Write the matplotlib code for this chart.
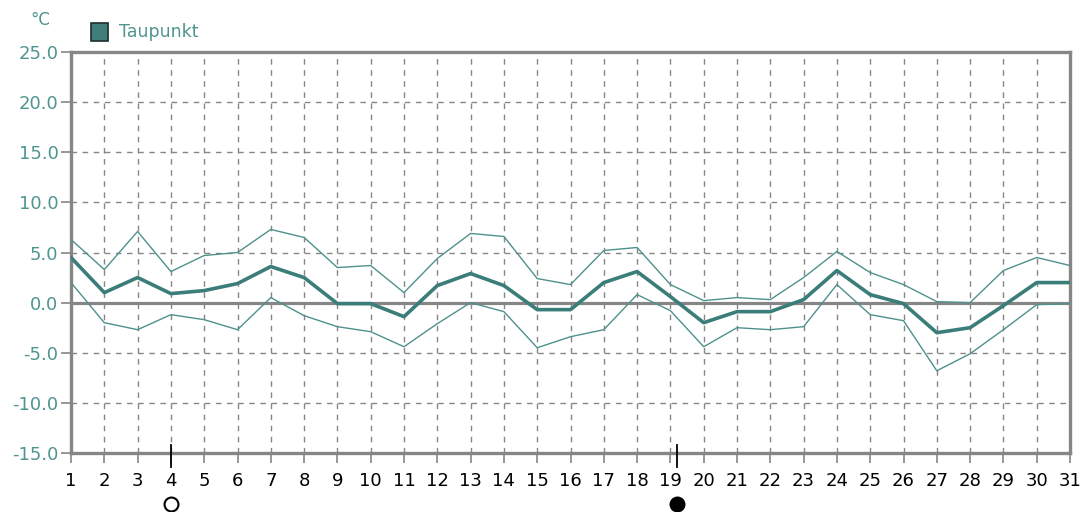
import numpy as np
import matplotlib
matplotlib.use("Agg")
import matplotlib.pyplot as plt
import matplotlib.transforms as mtransforms
from matplotlib.patches import Rectangle

# ---------------- data ----------------
days = list(range(1, 32))
taupunkt_mittel = [4.5, 1.0, 2.5, 0.9, 1.2, 1.9, 3.6, 2.5, -0.1, -0.1,
                   -1.4, 1.7, 2.9, 1.7, -0.7, -0.7, 2.0, 3.1, 0.6, -2.0,
                   -0.9, -0.9, 0.3, 3.2, 0.8, -0.1, -3.0, -2.5, -0.3, 2.0, 2.0]
taupunkt_max = [6.3, 3.3, 7.1, 3.1, 4.7, 5.0, 7.3, 6.5, 3.5, 3.7,
                1.0, 4.4, 6.9, 6.6, 2.4, 1.8, 5.2, 5.5, 1.8, 0.2,
                0.5, 0.3, 2.5, 5.1, 3.0, 1.8, 0.1, 0.0, 3.2, 4.5, 3.7]
taupunkt_min = [2.0, -2.0, -2.7, -1.2, -1.7, -2.7, 0.5, -1.3, -2.4, -2.9,
                -4.4, -2.1, 0.0, -0.9, -4.5, -3.4, -2.7, 0.8, -0.8, -4.4,
                -2.5, -2.7, -2.4, 1.8, -1.2, -1.8, -6.8, -5.1, -2.7, -0.2, -0.1]
y_ticks = [-15.0, -10.0, -5.0, 0.0, 5.0, 10.0, 15.0, 20.0, 25.0]
# moon phases: day position, filled (new moon) or open (full moon)
moon_days = [4.0, 19.2]
moon_filled = [False, True]

# ---------------- styles ----------------
TEAL = '#3b7d79'
TEAL_LIGHT = '#4e918c'
LABEL_TEAL = '#4f958f'
GRAY = '#868686'

plt.rcParams['font.family'] = ['DejaVu Sans']

fig = plt.figure(figsize=(10.85, 5.12), dpi=100)
ax = fig.add_axes((71 / 1085, 59 / 512, 999 / 1085, 401 / 512))

ax.set_xlim(1, 31)
ax.set_ylim(-15, 25)

# grid
ax.set_xticks(days)
ax.set_yticks(y_ticks)
ax.grid(True, color=GRAY, linestyle=(0, (4, 4)), linewidth=1.0)
ax.set_axisbelow(True)

# zero line
ax.axhline(0, color=GRAY, linewidth=2.3, zorder=2)

# series
ax.plot(days, taupunkt_max, color=TEAL_LIGHT, linewidth=1.0, zorder=3)
ax.plot(days, taupunkt_min, color=TEAL_LIGHT, linewidth=1.0, zorder=3)
ax.plot(days, taupunkt_mittel, color=TEAL, linewidth=2.6, zorder=4)

# frame
for side in ['left', 'right', 'top', 'bottom']:
    ax.spines[side].set_color(GRAY)
    ax.spines[side].set_linewidth(2.4)

ax.set_yticklabels(["%.1f" % v for v in y_ticks])
ax.set_xticklabels([str(d) for d in days])
ax.tick_params(axis='y', colors=GRAY, labelcolor=LABEL_TEAL, length=7,
               width=1.2, labelsize=13, pad=2)
ax.tick_params(axis='x', colors=GRAY, labelcolor='black', length=7,
               width=1.2, labelsize=13, pad=7)

# moon phase markers below the axis
trans = mtransforms.blended_transform_factory(ax.transData, ax.transAxes)
for d, filled in zip(moon_days, moon_filled):
    ax.plot([d, d], [0.02, -0.035], color='black', linewidth=1.3,
            transform=trans, clip_on=False, zorder=6)
    ax.plot([d], [-0.126], marker='o', markersize=10,
            markerfacecolor='black' if filled else 'white',
            markeredgecolor='black', markeredgewidth=1.5,
            transform=trans, clip_on=False, zorder=6)

# unit and legend
fig.text(40 / 1085, 1 - 20 / 512, '°C', color=LABEL_TEAL, fontsize=12,
         ha='center', va='center')
fig.patches.append(Rectangle((91 / 1085, 1 - 41 / 512), 17 / 1085, 18 / 512,
                             transform=fig.transFigure, facecolor='#3f7f7a',
                             edgecolor='#1e2e2e', linewidth=1.2))
fig.text(119 / 1085, 1 - 32 / 512, 'Taupunkt', color=LABEL_TEAL,
         fontsize=12.5, ha='left', va='center')

fig.savefig('out.png', dpi=100)
